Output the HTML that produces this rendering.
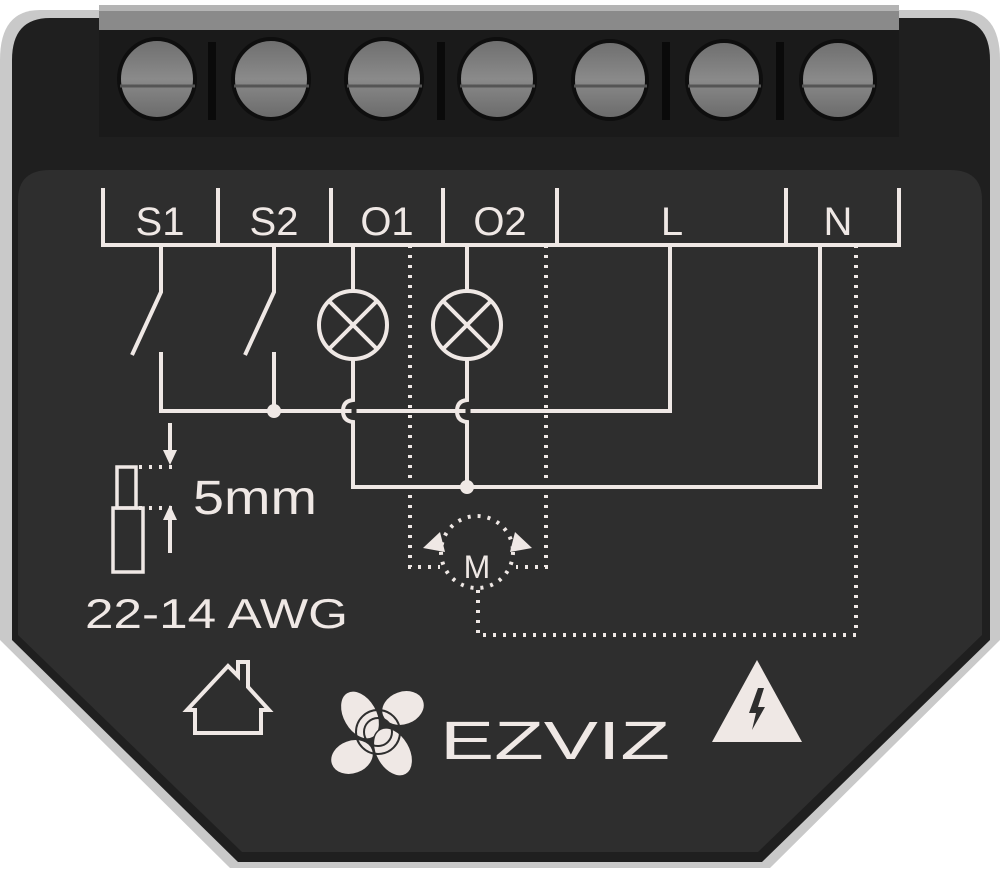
<!DOCTYPE html>
<html><head><meta charset="utf-8"><style>
html,body{margin:0;padding:0;background:#fff;}
svg{display:block;}
text{font-family:"Liberation Sans",sans-serif;fill:#efe8e5;}
</style></head><body>
<svg width="1000" height="873" viewBox="0 0 1000 873" xmlns="http://www.w3.org/2000/svg">
<defs>
<linearGradient id="scr" x1="0" y1="0" x2="0" y2="1">
<stop offset="0" stop-color="#6e6e6e"/><stop offset="0.5" stop-color="#8a8a8a"/><stop offset="1" stop-color="#6a6a6a"/>
</linearGradient>
</defs>
<path d="M0,60 Q0,10 40,10 L960,10 Q1000,10 1000,60 L1000,640 L770,868 L230,868 L0,640 Z" fill="#c9c9c9"/>
<path d="M12,60 Q12,18 50,18 L950,18 Q990,18 990,60 L990,640 L762,862 L238,862 L12,640 Z" fill="#1f1f1f"/>
<path d="M18,200 Q18,170 50,170 L950,170 Q982,170 982,200 L982,635 L758,852 L242,852 L18,635 Z" fill="#2e2e2e"/>
<rect x="99" y="5" width="800" height="132" fill="#1a1a1a"/>
<rect x="99" y="5" width="800" height="25" fill="#8a8a8a"/>
<rect x="99" y="5" width="800" height="6" fill="#b4b4b4"/>
<g fill="url(#scr)" stroke="#0e0e0e" stroke-width="4">
<ellipse cx="157" cy="79" rx="38" ry="40"/>
<ellipse cx="271" cy="79" rx="38" ry="40"/>
<ellipse cx="384" cy="79" rx="38" ry="40"/>
<ellipse cx="497" cy="79" rx="38" ry="40"/>
<ellipse cx="610" cy="80" rx="37" ry="39"/>
<ellipse cx="724" cy="80" rx="37" ry="39"/>
<ellipse cx="838" cy="80" rx="37" ry="39"/>
</g>
<g stroke="#555" stroke-width="3">
<line x1="120" y1="86" x2="195" y2="86"/><line x1="234" y1="86" x2="309" y2="86"/>
<line x1="347" y1="86" x2="422" y2="86"/><line x1="460" y1="86" x2="535" y2="86"/>
<line x1="574" y1="86" x2="647" y2="86"/><line x1="688" y1="86" x2="761" y2="86"/>
<line x1="802" y1="86" x2="875" y2="86"/>
</g>
<g fill="#0a0a0a"><rect x="208" y="42" width="8" height="78"/><rect x="437" y="42" width="8" height="78"/><rect x="662" y="42" width="8" height="78"/><rect x="776" y="42" width="8" height="78"/></g>

<g stroke="#efe8e5" stroke-width="4" fill="none" stroke-linecap="butt">
<polyline points="103,188 103,245 899,245 899,188"/>
<line x1="218" y1="188" x2="218" y2="245"/><line x1="331" y1="188" x2="331" y2="245"/>
<line x1="443" y1="188" x2="443" y2="245"/><line x1="557" y1="188" x2="557" y2="245"/>
<line x1="786" y1="188" x2="786" y2="245"/>
<polyline points="161,245 161,292 132,355"/>
<polyline points="161,352 161,411 670,411 670,245"/>
<polyline points="274,245 274,292 245,355"/>
<line x1="274" y1="352" x2="274" y2="411"/>
<line x1="353" y1="245" x2="353" y2="290"/>
<circle cx="353" cy="325" r="34"/>
<path d="M329,301 L377,349 M377,301 L329,349"/>
<path d="M353,359 L353,400 Q343,401 343,411 Q343,421 353,422 L353,487 L820,487 L820,245"/>
<line x1="467" y1="245" x2="467" y2="290"/>
<circle cx="467" cy="325" r="34"/>
<path d="M443,301 L491,349 M491,301 L443,349"/>
<path d="M467,359 L467,400 Q457,401 457,411 Q457,421 467,422 L467,487"/>
<line x1="170" y1="423" x2="170" y2="455"/>
<line x1="170" y1="515" x2="170" y2="553"/>
<rect x="117" y="467" width="19" height="41" stroke-width="3.5"/>
<rect x="113" y="508" width="30" height="64" stroke-width="3.5"/>
</g>
<g stroke="#2e2e2e" stroke-width="5"><line x1="354" y1="404" x2="354" y2="418"/><line x1="468" y1="404" x2="468" y2="418"/></g>
<g fill="#efe8e5">
<circle cx="274" cy="411" r="7"/><circle cx="467" cy="487" r="7"/>
<polygon points="163,450 177,450 170,465"/><polygon points="163,520 177,520 170,505"/>
</g>
<g stroke="#efe8e5" stroke-width="4" fill="none" stroke-dasharray="3,7">
<line x1="139" y1="467" x2="178" y2="467"/><line x1="139" y1="508" x2="178" y2="508"/>
<polyline points="410,245 410,567 440,567"/>
<polyline points="546,245 546,567 516,567"/>
<polyline points="856,245 856,635 478,635 478,588"/>
<circle cx="477" cy="552" r="36"/>
</g>
<g fill="#efe8e5">
<polygon points="423,548 440,532 445,552"/>
<polygon points="532,548 515,532 510,552"/>
</g>
<text x="477" y="578" font-size="32" text-anchor="middle">M</text>

<g font-size="40" text-anchor="middle">
<text x="160" y="235">S1</text><text x="274" y="235">S2</text>
<text x="387" y="235">O1</text><text x="500" y="235">O2</text>
<text x="672" y="235">L</text><text x="838" y="235">N</text>
</g>
<text x="193" y="514" font-size="48" textLength="124" lengthAdjust="spacingAndGlyphs">5mm</text>
<text x="85" y="628" font-size="42" textLength="263" lengthAdjust="spacingAndGlyphs">22-14 AWG</text>

<path d="M187,710 L228,666 L238,676 L238,662 L248,662 L248,687 L269,710 L261,710 L261,733 L195,733 L195,710 Z" fill="none" stroke="#efe8e5" stroke-width="4" stroke-linejoin="miter"/>
<g fill="#efe8e5" stroke="#2e2e2e" stroke-width="1.5">
<ellipse cx="360" cy="715" rx="17" ry="26" transform="rotate(-30 360 715)"/>
<ellipse cx="403" cy="708" rx="22" ry="17" transform="rotate(-20 403 708)"/>
<ellipse cx="352" cy="757" rx="22" ry="17" transform="rotate(-20 352 757)"/>
<ellipse cx="393" cy="752" rx="17" ry="26" transform="rotate(-30 393 752)"/>
</g>
<g fill="none" stroke="#2e2e2e" stroke-width="2"><circle cx="378" cy="732" r="14"/><circle cx="378" cy="732" r="22"/></g>
<text x="440" y="759" font-size="54" textLength="230" lengthAdjust="spacingAndGlyphs">EZVIZ</text>
<polygon points="757,660 802,742 712,742" fill="#efe8e5"/>
<path d="M758,688 L749,713 L756,713 L752,730 L765,707 L758,707 L764,688 Z" fill="#2e2e2e"/>
</svg>
</body></html>
